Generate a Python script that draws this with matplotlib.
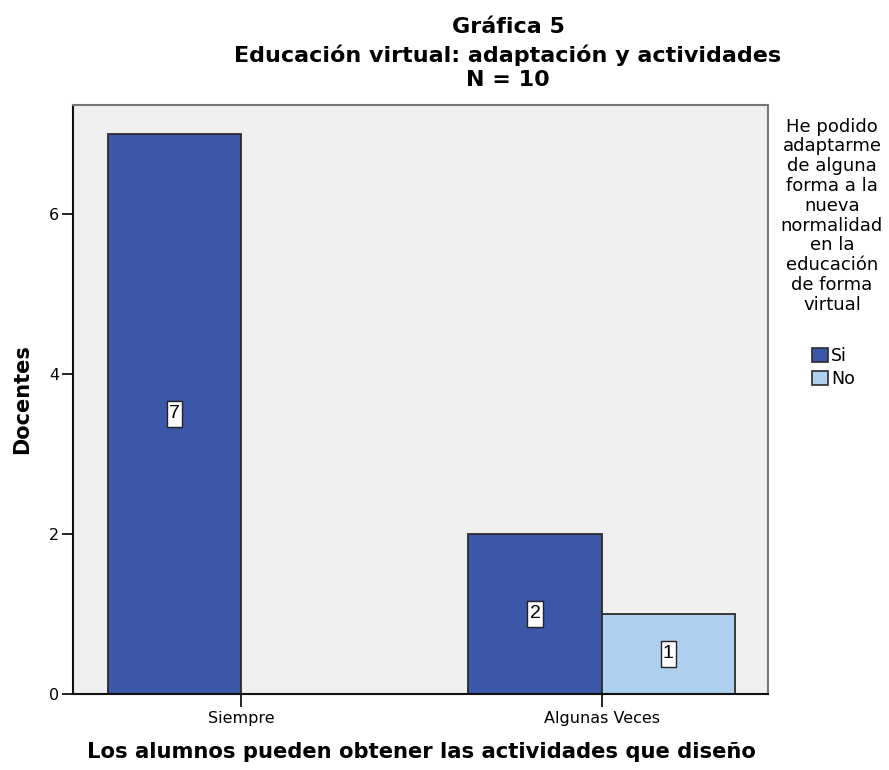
import matplotlib
matplotlib.use("Agg")
import matplotlib.pyplot as plt
from matplotlib.path import Path
import numpy as np

categories = ["Siempre", "Algunas Veces"]
series_names = ["Si", "No"]
si_values = [7, 2]
no_values = [0, 1]
yticks = [0, 2, 4, 6]

title_lines = ["Gráfica 5", "Educación virtual: adaptación y actividades", "N = 10"]
legend_title = ("He podido\nadaptarme\nde alguna\nforma a la\nnueva\nnormalidad\n"
                "en la\neducación\nde forma\nvirtual")
xlabel = "Los alumnos pueden obtener las actividades que diseño"
ylabel = "Docentes"

colors = ["#3C56A8", "#AED0EE"]
edge = "#2b2b2b"


def tall_box(x0, y0, width, height, mutation_size):
    px = 0.12 * mutation_size
    py = 0.22 * mutation_size
    x0, y0 = x0 - px, y0 - py
    x1, y1 = x0 + width + 2 * px, y0 + height + 2 * py
    return Path([(x0, y0), (x1, y0), (x1, y1), (x0, y1), (x0, y0)], closed=True)


W, H = 889, 770
fig = plt.figure(figsize=(W / 100, H / 100), dpi=100)
ax = fig.add_axes([73.3 / W, 1 - 694 / H, (768.3 - 73.3) / W, (694 - 105) / H])
ax.set_facecolor("#EFEFEF")

x = np.arange(len(categories))
w = 0.37
b1 = ax.bar(x - w / 2, si_values, w, color=colors[0], edgecolor=edge, linewidth=1.3, label=series_names[0])
b2 = ax.bar(x + w / 2, no_values, w, color=colors[1], edgecolor=edge, linewidth=1.3, label=series_names[1])

for bars, vals in ((b1, si_values), (b2, no_values)):
    for rect, v in zip(bars, vals):
        if v > 0:
            ax.text(rect.get_x() + rect.get_width() / 2, v / 2, str(v),
                    ha="center", va="center", fontsize=14, family="Liberation Sans",
                    bbox=dict(boxstyle=tall_box, fc="white", ec="#222222", lw=1.0))

ax.set_xlim(-0.465, 1.462)
ax.set_ylim(0, 7.36)
ax.set_xticks(x)
ax.set_xticklabels(categories, fontsize=11.5, family="DejaVu Sans")
ax.set_yticks(yticks)
ax.set_yticklabels([str(t) for t in yticks], fontsize=11.5, family="DejaVu Sans")
ax.tick_params(axis="y", length=8, width=1.2, pad=2)
ax.tick_params(axis="x", length=9, width=1.2, pad=3)

for s in ("left", "bottom"):
    ax.spines[s].set_color("#111111")
    ax.spines[s].set_linewidth(1.5)
for s in ("top", "right"):
    ax.spines[s].set_color("#777777")
    ax.spines[s].set_linewidth(1.5)

ax.set_ylabel(ylabel, fontsize=15, fontweight="bold", family="DejaVu Sans")
ax.yaxis.label.set_ha("center")
ax.yaxis.label.set_va("center")
ax.yaxis.set_label_coords((22 - 73.3) / (768.3 - 73.3), 0.5)
fig.text(421 / W, 1 - 752 / H, xlabel, ha="center", va="center",
         fontsize=15.2, fontweight="bold", family="DejaVu Sans")

for yy, t in zip([33.3, 61.7, 85.5], title_lines):
    fig.text(508 / W, 1 - yy / H, t, ha="center", va="baseline",
             fontsize=16, fontweight="bold", family="DejaVu Sans")

fig.text(832 / W, 1 - 117.5 / H, legend_title, ha="center", va="top",
         multialignment="center", linespacing=1.13, fontsize=13, family="DejaVu Sans")

fs = 12.5
fpx = fs * 100 / 72
leg = fig.legend(handles=[b1, b2], labels=series_names,
                 loc="upper left", bbox_to_anchor=(812 / W, 1 - 347 / H),
                 frameon=False, prop={"family": "DejaVu Sans", "size": fs},
                 handlelength=16 / fpx, handleheight=15 / fpx, handletextpad=0.17,
                 labelspacing=0.26, borderpad=0, borderaxespad=0)
for p in leg.get_patches():
    p.set_edgecolor(edge)
    p.set_linewidth(1.2)

fig.savefig("out.png", dpi=100, facecolor="white")
